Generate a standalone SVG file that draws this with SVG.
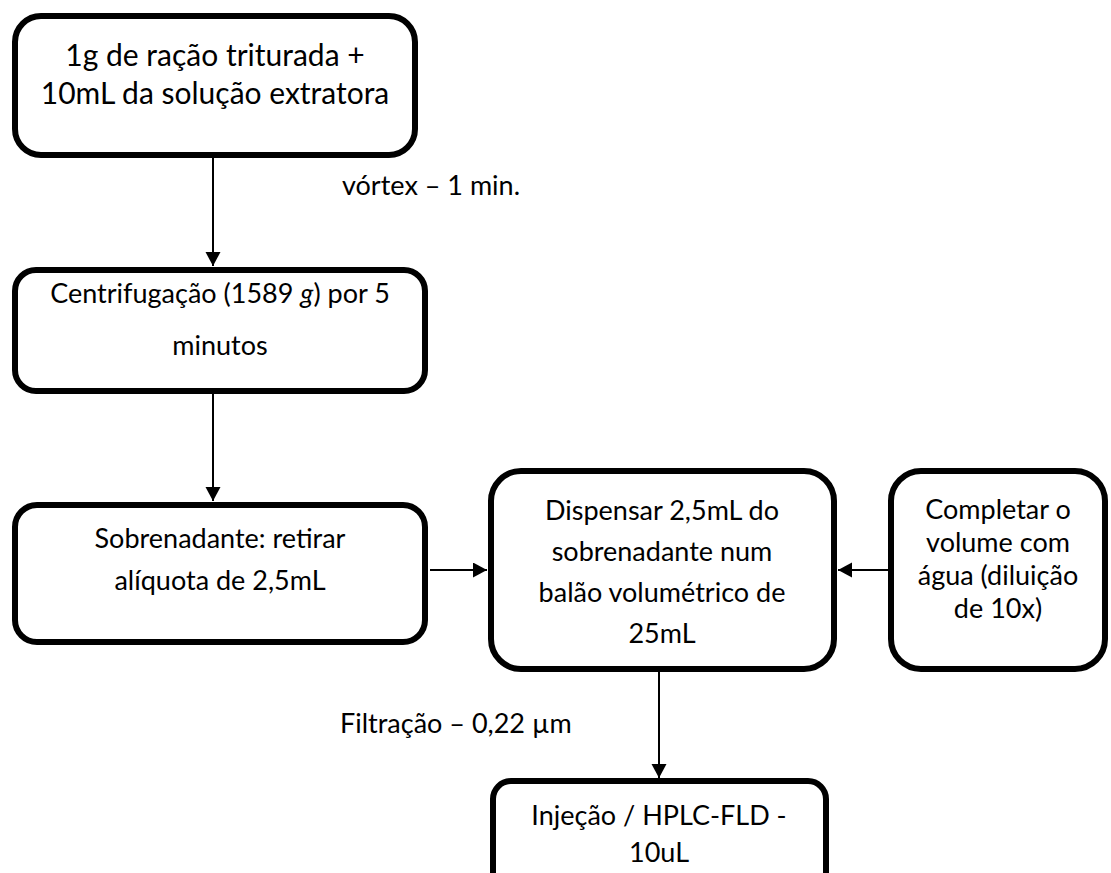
<svg xmlns="http://www.w3.org/2000/svg" width="1111" height="873" viewBox="0 0 1111 873">
<style>
.box{fill:#fff;stroke:#000;stroke-width:6}
.t{font-family:Lato,"Liberation Sans",sans-serif;font-size:27px;fill:#000;text-anchor:middle}
.big{font-size:30px}
.l{font-family:Lato,"Liberation Sans",sans-serif;font-size:27px;fill:#000}
.c{stroke:#000;stroke-width:2;fill:none}
</style>
<defs>
<marker id="ah" markerUnits="userSpaceOnUse" markerWidth="16" markerHeight="16" refX="14" refY="7.5" orient="auto">
<path d="M0,0 L14,7.5 L0,15 Z" fill="#000"/>
</marker>
</defs>
<rect width="1111" height="873" fill="#fff"/>
<g id="connectors">
<line class="c" x1="213" y1="158" x2="213" y2="266" marker-end="url(#ah)"/>
<line class="c" x1="213" y1="394" x2="213" y2="501" marker-end="url(#ah)"/>
<line class="c" x1="430" y1="570" x2="487" y2="570" marker-end="url(#ah)"/>
<line class="c" x1="888" y1="570" x2="838" y2="570" marker-end="url(#ah)"/>
<line class="c" x1="659" y1="672" x2="659" y2="778" marker-end="url(#ah)"/>
</g>
<g id="lbl-vortex"><text class="l" x="342" y="195">vórtex – 1 min.</text></g>
<g id="lbl-filtracao"><text class="l" x="340" y="733">Filtração – 0,22 µm</text></g>
<g id="n1">
<rect class="box" x="15" y="16" width="400" height="139" rx="26"/>
<text class="t big" x="215" y="66">1g de ração triturada +</text>
<text class="t big" x="215" y="104">10mL da solução extratora</text>
</g>
<g id="n2">
<rect class="box" x="15" y="270" width="410" height="121" rx="21"/>
<text class="t" x="220" y="303">Centrifugação (1589 <tspan font-style="italic">g</tspan>) por 5</text>
<text class="t" x="220" y="355">minutos</text>
</g>
<g id="n3">
<rect class="box" x="15" y="505" width="410" height="137" rx="22"/>
<text class="t" x="220" y="548">Sobrenadante: retirar</text>
<text class="t" x="220" y="590">alíquota de 2,5mL</text>
</g>
<g id="n4">
<rect class="box" x="491" y="471" width="343" height="198" rx="30"/>
<text class="t" x="662" y="520">Dispensar 2,5mL do</text>
<text class="t" x="662" y="561">sobrenadante num</text>
<text class="t" x="662" y="602">balão volumétrico de</text>
<text class="t" x="662" y="643">25mL</text>
</g>
<g id="n5">
<rect class="box" x="891" y="471" width="214" height="198" rx="30"/>
<text class="t" x="998" y="519">Completar o</text>
<text class="t" x="998" y="552">volume com</text>
<text class="t" x="998" y="585">água (diluição</text>
<text class="t" x="998" y="618">de 10x)</text>
</g>
<g id="n6">
<rect class="box" x="493" y="781" width="333" height="110" rx="18"/>
<text class="t" x="659" y="825">Injeção / HPLC-FLD -</text>
<text class="t" x="659" y="862">10uL</text>
</g>
</svg>
